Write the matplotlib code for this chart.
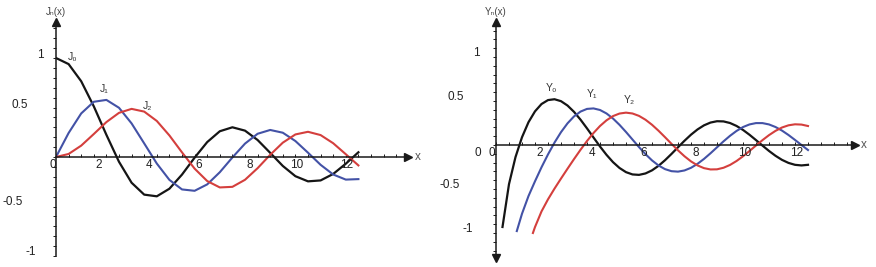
import matplotlib.pyplot as plt
from matplotlib.ticker import MultipleLocator, NullFormatter

plt.rcParams['font.family'] = ['Liberation Sans', 'DejaVu Sans']

# ---- values ----
# Bessel functions of the first kind, left panel
x_j = [0.0, 0.5, 1.0, 1.5, 2.0, 2.5, 3.0, 3.5, 4.0, 4.5, 5.0, 5.5, 6.0,
       6.5, 7.0, 7.5, 8.0, 8.5, 9.0, 9.5, 10.0, 10.5, 11.0, 11.5, 12.0]
j0 = [1.0, 0.9385, 0.7652, 0.5118, 0.2239, -0.0484, -0.2601, -0.3801, -0.3971,
      -0.3205, -0.1776, -0.0068, 0.1506, 0.2601, 0.3001, 0.2663, 0.1717, 0.0419,
      -0.0903, -0.1939, -0.2459, -0.2366, -0.1712, -0.0677, 0.0477]
j1 = [0.0, 0.2423, 0.4401, 0.5579, 0.5767, 0.4971, 0.3391, 0.1374, -0.0660,
      -0.2311, -0.3276, -0.3414, -0.2767, -0.1538, -0.0047, 0.1352, 0.2346, 0.2731,
      0.2453, 0.1613, 0.0435, -0.0789, -0.1768, -0.2283, -0.2234]
j2 = [0.0, 0.0306, 0.1149, 0.2321, 0.3528, 0.4461, 0.4861, 0.4586, 0.3641,
      0.2178, 0.0466, -0.1173, -0.2429, -0.3074, -0.3014, -0.2303, -0.1130, 0.0223,
      0.1448, 0.2279, 0.2546, 0.2215, 0.1390, 0.0280, -0.0849]

# Bessel functions of the second kind, right panel
x_y0 = [0.25, 0.5, 0.75, 1.0, 1.25, 1.5, 1.75, 2.0, 2.25, 2.5, 2.75, 3.0, 3.25,
        3.5, 3.75, 4.0, 4.25, 4.5, 4.75, 5.0, 5.25, 5.5, 5.75, 6.0, 6.25, 6.5,
        6.75, 7.0, 7.25, 7.5, 7.75, 8.0, 8.25, 8.5, 8.75, 9.0, 9.25, 9.5, 9.75,
        10.0, 10.25, 10.5, 10.75, 11.0, 11.25, 11.5, 11.75, 12.0]
y0 = [-0.9316, -0.4445, -0.1372, 0.0883, 0.2593, 0.3824, 0.4655, 0.5104, 0.5200,
      0.4981, 0.4486, 0.3769, 0.2883, 0.1890, 0.0854, -0.0169, -0.1117, -0.1947,
      -0.2610, -0.3085, -0.3345, -0.3395, -0.3232, -0.2882, -0.2368, -0.1732,
      -0.1014, -0.0259, 0.0483, 0.1173, 0.1766, 0.2235, 0.2550, 0.2702, 0.2681,
      0.2499, 0.2167, 0.1712, 0.1163, 0.0557, -0.0069, -0.0676, -0.1226, -0.1690,
      -0.2036, -0.2252, -0.2322, -0.2252]
x_y1 = [0.8, 1.0, 1.25, 1.5, 1.75, 2.0, 2.25, 2.5, 2.75, 3.0, 3.25,
        3.5, 3.75, 4.0, 4.25, 4.5, 4.75, 5.0, 5.25, 5.5, 5.75, 6.0, 6.25, 6.5,
        6.75, 7.0, 7.25, 7.5, 7.75, 8.0, 8.25, 8.5, 8.75, 9.0, 9.25, 9.5, 9.75,
        10.0, 10.25, 10.5, 10.75, 11.0, 11.25, 11.5, 11.75, 12.0]
y1 = [-0.9781, -0.7812, -0.5799, -0.4123, -0.2533, -0.1070, 0.0273, 0.1459, 0.2459,
      0.3247, 0.3796, 0.4102, 0.4157, 0.3979, 0.3584, 0.3010, 0.2292, 0.1479,
      0.0619, -0.0238, -0.1040, -0.1750, -0.2324, -0.2741, -0.2975, -0.3027,
      -0.2892, -0.2591, -0.2142, -0.1581, -0.0941, -0.0262, 0.0412, 0.1043,
      0.1595, 0.2039, 0.2338, 0.2490, 0.2488, 0.2337, 0.2045, 0.1637, 0.1135,
      0.0575, -0.0004, -0.0571]
x_y2 = [1.42, 1.5, 1.75, 2.0, 2.25, 2.5, 2.75, 3.0, 3.25,
        3.5, 3.75, 4.0, 4.25, 4.5, 4.75, 5.0, 5.25, 5.5, 5.75, 6.0, 6.25, 6.5,
        6.75, 7.0, 7.25, 7.5, 7.75, 8.0, 8.25, 8.5, 8.75, 9.0, 9.25, 9.5, 9.75,
        10.0, 10.25, 10.5, 10.75, 11.0, 11.25, 11.5, 11.75, 12.0]
y2 = [-1.0, -0.9322, -0.7550, -0.6174, -0.4957, -0.3814, -0.2698, -0.1604, -0.0547,
      0.0454, 0.1363, 0.2159, 0.2804, 0.3285, 0.3575, 0.3677, 0.3581, 0.3308,
      0.2870, 0.2299, 0.1624, 0.0889, 0.0133, -0.0606, -0.1281, -0.1864, -0.2319,
      -0.2630, -0.2778, -0.2764, -0.2587, -0.2267, -0.1822, -0.1283, -0.0683,
      -0.0059, 0.0554, 0.1121, 0.1606, 0.1988, 0.2238, 0.2352, 0.2321, 0.2157]

xtick_vals = [2, 4, 6, 8, 10, 12]
xtick_labels = ['2', '4', '6', '8', '10', '12']

BLACK = '#151515'
BLUE = '#4352a6'
RED = '#d43f3d'
AXIS = '#1a1a1a'

fig = plt.figure(figsize=(8.76, 2.67), dpi=100)

W, H = 876.0, 267.0


def make_axes(x0, x1, y_top, y_bot, xlim, ylim):
    ax = fig.add_axes([x0 / W, 1 - y_bot / H, (x1 - x0) / W, (y_bot - y_top) / H])
    ax.set_xlim(*xlim)
    ax.set_ylim(*ylim)
    ax.patch.set_alpha(0)
    for s in ['top', 'right']:
        ax.spines[s].set_visible(False)
    ax.spines['left'].set_position(('data', 0))
    ax.spines['bottom'].set_position(('data', 0))
    for s in ['left', 'bottom']:
        ax.spines[s].set_color(AXIS)
        ax.spines[s].set_linewidth(1.1)
    ax.xaxis.set_major_locator(MultipleLocator(0.5))
    ax.yaxis.set_major_locator(MultipleLocator(0.1))
    ax.xaxis.set_major_formatter(NullFormatter())
    ax.yaxis.set_major_formatter(NullFormatter())
    ax.tick_params(axis='x', direction='in', length=2.5, width=0.7, colors=AXIS)
    ax.tick_params(axis='y', direction='out', length=2.5, width=0.7, colors=AXIS)
    # arrow heads
    ax.plot([xlim[1]], [0], marker='>', ms=6, color=AXIS, clip_on=False)
    ax.plot([0], [ylim[1]], marker='^', ms=6, color=AXIS, clip_on=False)
    for v, lbl in zip(xtick_vals, xtick_labels):
        ax.annotate(lbl, (v, 0), xytext=(-3.5, -5.5), textcoords='offset points',
                    ha='right', va='center', fontsize=8.5, color='#222222')
    return ax


# ---------------- left panel: J_n(x) ----------------
axL = make_axes(56, 408, 22, 256, (0, 352 / 25.2), (-1.0, 135 / 99.0))
axL.plot(x_j, j0, color=BLACK, lw=1.6, solid_joinstyle='round')
axL.plot(x_j, j1, color=BLUE, lw=1.5, solid_joinstyle='round')
axL.plot(x_j, j2, color=RED, lw=1.5, solid_joinstyle='round')

axL.annotate('0', (0, 0), xytext=(-2, -5.5), textcoords='offset points',
             ha='center', va='center', fontsize=8.5, color='#222222')
for v, lbl, dx in [(1, '1', -11), (0.5, '0.5', -26), (-0.5, '-0.5', -31), (-1, '-1', -18)]:
    axL.annotate(lbl, (0, v), xytext=(dx, 2 if v > 0 else 3), textcoords='offset points',
                 ha='center', va='center', fontsize=8.5, color='#222222')

axL.text(0.67, 1.01, 'J₀', fontsize=7.5, ha='center', va='center', color='#333333')
axL.text(1.90, 0.69, 'J₁', fontsize=7.5, ha='center', va='center', color='#333333')
axL.text(3.65, 0.515, 'J₂', fontsize=7.5, ha='center', va='center', color='#333333')
axL.text(0, 1.465, 'Jₙ(x)', fontsize=7, ha='center', va='center', color='#444444')
axL.annotate('x', (352 / 25.2, 0), xytext=(7, 0), textcoords='offset points',
             ha='center', va='center', fontsize=8.5, color='#555555')

# ---------------- right panel: Y_n(x) ----------------
axR = make_axes(496, 855, 22, 258, (0, 359 / 26.0), (-113 / 88.0, 123 / 88.0))
axR.plot([0], [-113 / 88.0], marker='v', ms=6, color=AXIS, clip_on=False)
axR.plot(x_y0, y0, color=BLACK, lw=1.6, solid_joinstyle='round')
axR.plot(x_y1, y1, color=BLUE, lw=1.5, solid_joinstyle='round')
axR.plot(x_y2, y2, color=RED, lw=1.5, solid_joinstyle='round')

axR.annotate('0', (0, 0), xytext=(-3, -5.5), textcoords='offset points',
             ha='center', va='center', fontsize=8.5, color='#222222')
axR.annotate('0', (0, 0), xytext=(-13, -5.5), textcoords='offset points',
             ha='center', va='center', fontsize=8.5, color='#222222')
for v, lbl, dx in [(1, '1', -14), (0.5, '0.5', -29), (-0.5, '-0.5', -33), (-1, '-1', -20)]:
    axR.annotate(lbl, (0, v), xytext=(dx, 3), textcoords='offset points',
                 ha='center', va='center', fontsize=8.5, color='#222222')

axR.text(2.15, 0.65, 'Y₀', fontsize=7.5, ha='center', va='center', color='#333333')
axR.text(3.69, 0.58, 'Y₁', fontsize=7.5, ha='center', va='center', color='#333333')
axR.text(5.12, 0.51, 'Y₂', fontsize=7.5, ha='center', va='center', color='#333333')
axR.text(0, 1.512, 'Yₙ(x)', fontsize=7, ha='center', va='center', color='#444444')
axR.annotate('x', (359 / 26.0, 0), xytext=(6, 0), textcoords='offset points',
             ha='center', va='center', fontsize=8.5, color='#555555')

fig.savefig('out.png', dpi=100)
